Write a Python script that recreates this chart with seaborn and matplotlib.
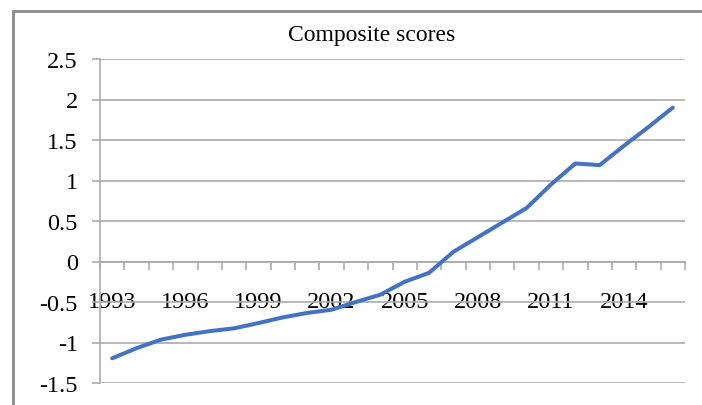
import numpy as np
import matplotlib
matplotlib.use("Agg")
import matplotlib.pyplot as plt
from matplotlib.lines import Line2D
import seaborn as sns

# data
years = list(range(1993, 2017))
scores = [-1.195, -1.07, -0.965, -0.905, -0.86, -0.825, -0.76, -0.69,
          -0.635, -0.595, -0.50, -0.41, -0.25, -0.14, 0.12, 0.30,
          0.48, 0.66, 0.95, 1.21, 1.19, 1.43, 1.66, 1.90]
year_labels = [1993, 1996, 1999, 2002, 2005, 2008, 2011, 2014]
y_ticks = [-1.5, -1, -0.5, 0, 0.5, 1, 1.5, 2, 2.5]

sns.set_style("white")
plt.rcParams['font.family'] = ['Liberation Serif', 'DejaVu Serif']
plt.rcParams['text.color'] = 'black'
plt.rcParams['xtick.color'] = 'black'
plt.rcParams['ytick.color'] = 'black'

fig = plt.figure(figsize=(7.02, 4.06), dpi=100)
ax = fig.add_axes([100 / 702, 1 - 384 / 406, 585 / 702, 324 / 406])

grid_c = "#ababab"
line_c = "#4472C4"

sns.lineplot(x=years, y=scores, color=line_c, linewidth=2.9, ax=ax, zorder=3)

ax.set_xlim(1992.5, 2016.5)
ax.set_ylim(-1.5, 2.5)

# horizontal gridlines
ax.set_yticks(y_ticks)
ax.set_yticklabels([f"{v:g}" for v in y_ticks])
ax.yaxis.grid(True, color=grid_c, linewidth=1.2)
ax.xaxis.grid(False)
ax.tick_params(axis="y", which="major", length=6, width=1.2, color=grid_c,
               labelcolor="black", direction="out", labelsize=17.5, pad=10,
               left=True)

# x axis crosses at zero, marks between categories
ax.spines["bottom"].set_position(("data", 0))
ax.set_xticks(year_labels)
ax.set_xticklabels([str(y) for y in year_labels])
ax.set_xticks(np.arange(1992.5, 2017, 1), minor=True)
ax.tick_params(axis="x", which="major", length=0, labelsize=17.5, pad=21,
               labelcolor="black")
ax.tick_params(axis="x", which="minor", length=6, width=1.2, color=grid_c,
               direction="out", bottom=True)

for side in ["top", "right"]:
    ax.spines[side].set_visible(False)
for side in ["left", "bottom"]:
    ax.spines[side].set_color(grid_c)
    ax.spines[side].set_linewidth(1.2)

ax.set_xlabel("")
ax.set_ylabel("")

fig.text(372 / 702, 1 - 35 / 406, "Composite scores", ha="center", va="center",
         fontsize=17, color="black")

# outer chart border, only top and left edges are visible
bx, by = 13 / 702, 1 - 12 / 406
fig.add_artist(Line2D([bx, 1.0], [by, by], transform=fig.transFigure,
                      color="#8c8c8c", linewidth=2))
fig.add_artist(Line2D([bx, bx], [0.0, by], transform=fig.transFigure,
                      color="#8c8c8c", linewidth=2))

fig.savefig("out.png", dpi=100)
